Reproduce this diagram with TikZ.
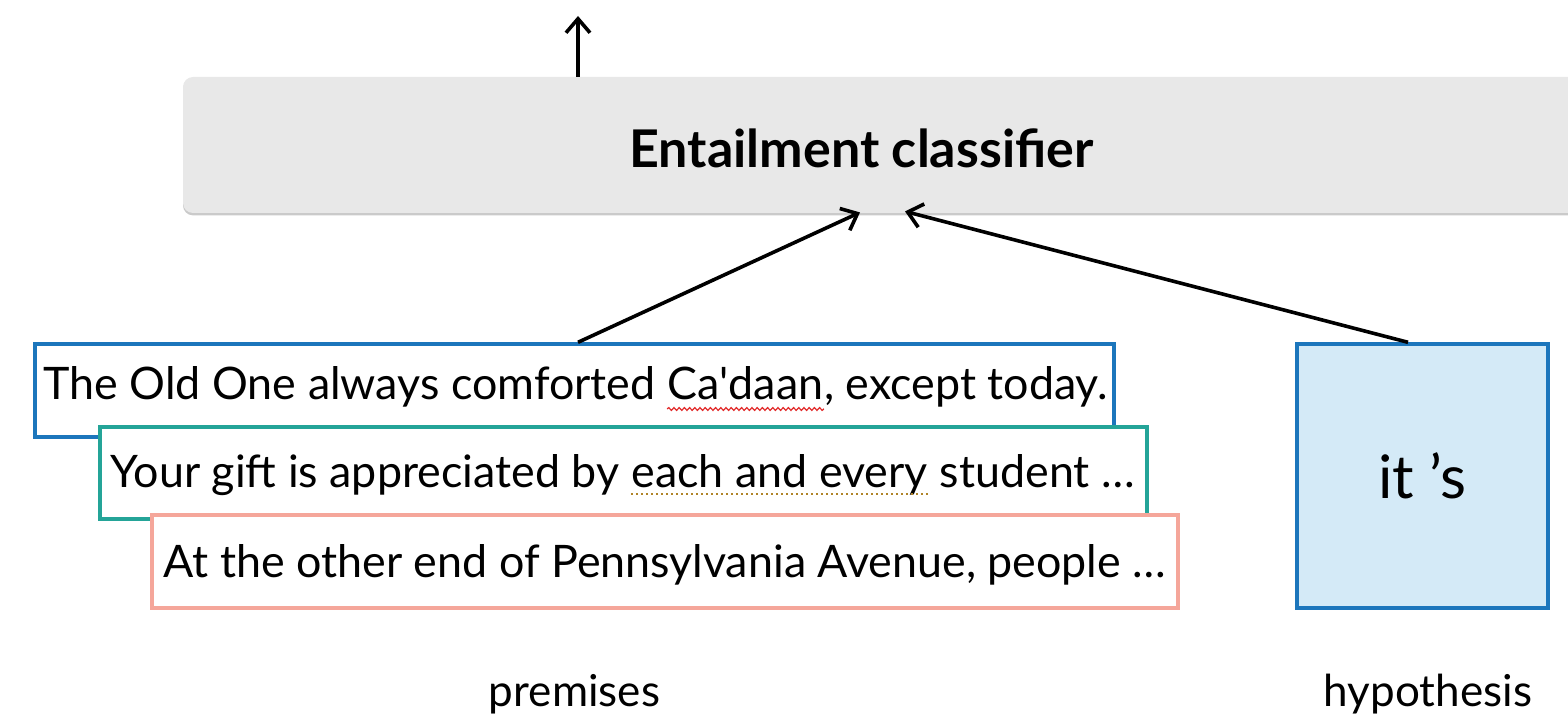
\documentclass[tikz,border=0pt]{standalone}
\usepackage{fontspec}
\setmainfont{Lato}
\usetikzlibrary{arrows.meta,calc,shadows,decorations.pathmorphing}

\definecolor{clsgray}{RGB}{232,232,232}
\definecolor{boxblue}{RGB}{28,118,188}
\definecolor{boxteal}{RGB}{36,164,152}
\definecolor{boxsalmon}{RGB}{245,166,154}
\definecolor{hypfill}{RGB}{212,234,247}
\definecolor{wavered}{RGB}{226,40,40}
\definecolor{dotgold}{RGB}{176,132,40}

\tikzset{
  sentbox/.style={draw, line width=1.7pt, fill=white, rectangle, inner sep=0pt},
  words/.style={inner sep=0pt, anchor=base west, font=\fontsize{22.4}{26}\selectfont},
  flow/.style={line width=1.8pt, -{Straight Barb[length=7pt,width=12pt,line width=1.8pt]}},
  caption/.style={font=\fontsize{22}{26}\selectfont, anchor=base},
  spellmark/.style={draw=wavered, line width=0.6pt,
    decorate, decoration={snake, segment length=2.6pt, amplitude=0.7pt}},
  grammarmark/.style={draw=dotgold, line width=1.2pt, dash pattern=on 1.2pt off 1.3pt},
}

\begin{document}
\begin{tikzpicture}[x=0.5pt,y=-0.5pt]
\useasboundingbox (0,0) rectangle (1568,721);
\clip (0,0) rectangle (1568,721);

% classifier bar, running past the right edge
\node[fill=clsgray, rounded corners=5pt, minimum width=718.5pt, minimum height=68pt,
      drop shadow={shadow xshift=0pt, shadow yshift=-1.2pt, opacity=0.35, fill=black!60},
      inner sep=0pt] (cls) at (901.5,145) {};
\node[font=\fontsize{26}{30}\selectfont\bfseries] (clstext) at (861.5,148) {Entailment classifier};

\coordinate (outtip) at (578,16);
\draw[flow] (cls.north -| outtip) -- (outtip);

% stacked premise sentences
\node[sentbox, draw=boxblue, minimum width=539.5pt, minimum height=46.5pt] (p1) at (574.5,390.5) {};
\node[words] (p1a) at ($(p1.west)+(10,9.5)$) {The Old One always comforted\ \mbox{}};
\node[words] (p1b) at (p1a.base east) {Ca\textquotesingle daan};
\node[words] (p1c) at (p1b.base east) {, except today.};
\draw[spellmark] ($(p1b.base west)+(0,9)$) -- ($(p1b.base east)+(0,9)$);

\node[sentbox, draw=boxteal, minimum width=523.5pt, minimum height=46pt] (p2) at (623.5,473) {};
\node[words] (p2a) at ($(p2.west)+(12,14)$) {Your gift is appreciated by\ \mbox{}};
\node[words] (p2b) at (p2a.base east) {each and every};
\node[words] (p2c) at (p2b.base east) {\ student …};
\draw[grammarmark] ($(p2b.base west)+(0,7)$) -- ($(p2b.base east)+(0,7)$);

\node[sentbox, draw=boxsalmon, minimum width=513pt, minimum height=46.5pt] (p3) at (665,561.5) {};
\node[words] (p3a) at ($(p3.west)+(13,15.5)$) {At the other end of Pennsylvania Avenue, people …};

% hypothesis token
\node[draw=boxblue, fill=hypfill, line width=1.7pt, minimum width=125.5pt, minimum height=132pt,
      font=\fontsize{30}{34}\selectfont] (hyp) at (1422.5,476) {it ’s};

% inputs into the classifier
\coordinate (inA) at (860,0);
\coordinate (inB) at (905,0);
\coordinate (srcA) at (578,0);
\coordinate (srcB) at (1408,0);
\draw[flow] (p1.north -| srcA) -- ($(cls.south -| inA)+(0,-1)$);
\draw[flow] (hyp.north -| srcB) -- ($(cls.south -| inB)+(0,-2)$);

% group labels
\node[caption] (lp) at (574.5,706) {premises};
\node[caption] (lh) at (1428,706) {hypothesis};
\end{tikzpicture}
\end{document}
